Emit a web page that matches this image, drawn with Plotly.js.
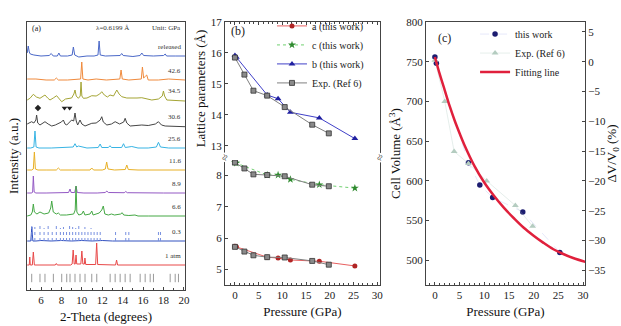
<!DOCTYPE html>
<html><head><meta charset="utf-8">
<script src="https://cdn.plot.ly/plotly-3.0.1.min.js"></script>
<style>body{margin:0;padding:0;background:#fff;} #chart{width:621px;height:326px;}</style>
</head><body><div id="chart"></div>
<script>
// ---------------- Panel (a): XRD patterns ----------------
const xrdLabels  = ["released","42.6","34.5","30.6","25.6","11.6","8.9","6.6","0.3","1 atm"];
const xrdOffsets = [234,210,190,164,142,120,97,74,49,25];

const thReleased = [4.65,4.75,4.85,4.95,5.3,6.0,6.8,7.0,7.2,7.6,7.75,7.9,8.6,9.05,9.17,9.3,9.7,10.5,11.2,11.58,11.69,11.8,12.3,13.0,13.75,13.9,14.05,15.0,15.7,15.87,16.05,17.0,18.0,18.16,18.3,19.2,20.1];
const inReleased = [3,10,4,2,1,0,0.5,2.5,0,0,3,0,0,1,9,1,-1,0,0,1,15,1,0,0,0.5,2.5,0.5,-0.5,0.5,3,0.5,0,0.5,2,0,0,0];

const th426 = [4.65,5.5,6.5,7.3,7.5,7.7,8.6,9.4,9.88,9.99,10.1,10.6,11.4,12.4,13.3,13.72,13.84,13.96,14.6,15.4,15.82,15.93,16.05,16.25,16.35,16.5,17.5,18.5,20.1];
const in426 = [1,1,0,0,2,0,0,1,1,18,1,0,1,0,1,1,10,1,0,1,1,13,2,4,5,0,0,1,0];

const th345 = [4.65,4.92,5.25,5.55,5.9,6.15,6.39,6.65,6.88,7.2,7.53,7.8,8.03,8.4,8.68,9.0,9.22,9.33,9.45,9.66,9.84,9.92,10.0,10.15,10.5,10.97,11.4,11.75,11.95,12.2,12.5,12.76,13.1,13.42,13.65,13.91,14.4,14.89,15.4,15.87,16.4,16.85,17.5,17.88,17.99,18.1,18.32,19.2,20.1];
const in345 = [0,1.7,5.7,3,1.7,3,5,2,0,2,4.3,1,-1.7,1,1.7,2,6,10,4,1.7,4,18,4,1.7,2,4.3,4,6,8.3,5,3,5,4,10,6,3.3,2,1.7,2,2.3,1,0,1,4,9,4,0,-0.5,-1];

const th306 = [4.65,5.08,5.3,5.5,5.57,5.68,5.9,6.39,6.7,7.05,7.4,7.7,8.0,8.19,8.35,8.52,8.8,9.0,9.2,9.33,9.45,9.59,9.82,10.0,10.31,10.6,10.97,11.4,11.8,11.95,12.1,12.45,12.9,13.26,13.7,14.1,14.24,14.4,14.73,15.3,15.87,16.5,17.2,17.5,17.8,18.16,19,20.1];
const in306 = [2,4.3,3,6,11,3,1,4.3,2,0,1,2.7,4,6,2,1,4,6,5,13,5,1,6,2,0,1,2.7,3,6,9.3,4,1,2,4.3,2,4,7.7,3,0,0.5,1,0.5,2,4.3,1,0,0,-0.7];

const th256 = [4.65,5.0,5.3,5.41,5.52,5.8,7.0,8.5,9.15,9.33,9.5,9.66,10.5,11.6,11.79,11.95,12.6,12.76,12.9,13.9,14.08,14.25,14.89,15.5,16.5,17.3,17.5,17.7,18.5,20.1];
const in256 = [0,0,1,17,1,0,0,0.5,1,4.3,1,2,0,0.5,4,0.5,0.5,2.3,0.5,0.5,4.3,0.5,1.5,0,0,1,5.7,1,0,0];

const th116 = [4.65,5.1,5.25,5.35,5.45,5.7,6.5,7.5,7.7,7.9,9.0,10.8,10.97,11.15,12.0,12.3,12.43,12.56,13.2,14.25,14.4,14.55,15.5,17,18.5,20.1];
const in116 = [0,0,1,18,1,0,0,0,2,0,0,0,2,0,0,1,8,1,0,0.5,5,0.5,0,0,0.5,0];

const th89 = [4.65,5.1,5.18,5.25,5.33,5.5,6.5,7.5,8.7,8.84,8.95,9.3,9.43,9.55,10.2,11.5,12.3,12.44,12.6,14.15,14.3,14.45,16,18,20.1];
const in89 = [0,0,1,17,1,0,0,0,0.5,4,0.5,0.5,6.7,0.5,0,0,0.5,2,0.5,0.3,1.5,0.3,0,0,0];

const th66 = [4.65,5.0,5.15,5.25,5.35,5.6,5.9,6.3,6.75,6.95,7.05,7.2,7.5,7.7,7.9,8.5,9.2,9.35,9.43,9.51,9.7,10.0,10.15,10.3,10.8,10.97,11.1,11.7,11.95,12.1,12.25,12.6,12.9,13.2,13.8,13.95,14.1,14.6,15.2,15.5,16.5,17.5,20.1];
const in66 = [0,1,4,12,4,2,4,2,3,8,15,4,2,3,1,1,2,6,30,4,1,2,5,1,2,5,1,3,6,10,2,1,2,1,2,3.3,1,0.5,1,0,0,0,0];

const th03 = [4.65,5.0,5.1,5.2,5.5,6.0,7.0,8.0,9.0,10.0,11.0,12.0,13.0,14.0,15.0,16.0,17.0,18.0,19.0,20.1];
const in03 = [0,0,14,0,0,0.5,0,0.5,0,0.5,0,0.5,0,0,0,0,0,0,0,0];
const mark03Theta = [5.1,5.4,5.9,6.3,6.7,7.1,7.5,7.9,8.2,8.5,8.8,9.1,9.4,9.7,10.0,10.3,10.6,10.9,11.2,11.5,11.8,13.3,14.3,14.6,17.5,17.7];
const mark03H     = [16,14,15,13,16,12,15,13,14,12,15,14,13,15,12,14,11,13,12,11,10,9,12,10,11,10];

const thAtm = [4.65,4.85,4.9,4.95,5.15,5.25,5.35,6.0,7.4,7.5,7.6,8.9,9.05,9.15,9.25,9.35,9.43,9.5,9.9,10.0,10.1,10.25,10.3,10.38,11.35,11.45,11.55,13.3,13.4,13.5,15,17,20.1];
const inAtm = [0,0,8,0,0,13,0,0,0,1.5,0,0,1,15,1,1,10,1,1,14,1,1,7,0.5,0.5,22,0.5,0,5,0,0,0,0];

const braggTheta = [5.09,5.90,6.39,7.21,8.03,8.52,8.84,9.33,9.82,10.31,10.97,11.46,12.77,13.26,13.75,14.24,14.73,15.71,16.2,16.69,17.01,18.65,19.14,19.46];
const symbolTheta = [5.7,8.3,8.8];
const symbolKinds = ["diamond","triangle-down","triangle-down"];

// ---------------- Panel (b): lattice parameters ----------------
const pTw  = [0,0.3,6.8,9.1,11.7,17.8,25.3];
const aTw  = [5.74,5.72,5.39,5.36,5.30,5.26,5.11];
const cTw  = [8.42,8.40,8.02,8.02,7.88,7.71,7.60];
const bTw  = [15.92,15.86,14.64,14.52,14.08,13.90,13.23];
const pExp = [0,2.0,3.9,6.8,10.5,16.3,19.8];
const aExp = [5.72,5.57,5.45,5.39,5.38,5.27,5.15];
const cExp = [8.42,8.23,8.04,8.02,7.98,7.71,7.66];
const bExp = [15.85,15.30,14.78,14.62,14.25,13.68,13.40];

// ---------------- Panel (c): cell volume ----------------
const vTw  = [756,748,623,595,579,561,510];
const vExp = [752,700,637,622,600,569,543];
const pFit = [0,1,2,3,4,5,6,8,10,12,14,16,18,20,22,24,26,28,30.5];
const vFit = [756,734,714,694,676,660,645,619,598,581,566,553,541,531,522,514,508,503,498];
const V0 = 750;

const xrdColors = ["#4a68c8","#f08a3c","#a5a535","#454545","#38b4e4","#e8b025","#9358c4","#45a845","#3352c0","#e84848"];
const xrdSeries = [[thReleased,inReleased],[th426,in426],[th345,in345],[th306,in306],[th256,in256],[th116,in116],[th89,in89],[th66,in66],[th03,in03],[thAtm,inAtm]];

const traces = [];
xrdSeries.forEach((s,i)=>{
  traces.push({x:s[0], y:s[1].map(v=>v+xrdOffsets[i]), xaxis:'x', yaxis:'y', mode:'lines',
    line:{color:xrdColors[i], width:1}, showlegend:false, hoverinfo:'skip'});
});
(function(){
  const xs=[], ys=[]; const off = xrdOffsets[8];
  mark03Theta.forEach((t,k)=>{ xs.push(t,t,null); ys.push(off, off+mark03H[k], null); });
  traces.push({x:xs, y:ys, xaxis:'x', yaxis:'y', mode:'lines', line:{color:'#7890e0', width:1, dash:'dot'}, showlegend:false});
})();
traces.push({x:braggTheta, y:braggTheta.map(()=>12), xaxis:'x', yaxis:'y', mode:'markers',
  marker:{symbol:'line-ns-open', size:6, color:'#999', line:{color:'#999', width:1}}, showlegend:false});
traces.push({x:symbolTheta, y:symbolTheta.map(()=>xrdOffsets[3]+18), xaxis:'x', yaxis:'y', mode:'markers',
  marker:{symbol:symbolKinds, size:5, color:'#222'}, showlegend:false});

// panel b
const redL='#e86060', redM='#b02525', grnL='#70d070', grnM='#2f8a2f', bluL='#4040c8', bluM='#2020a0', gryL='#808080', gryM='#8a8a8a';
const expMk = {symbol:'square',size:5,color:gryM,line:{color:'#333',width:0.8}};
traces.push({name:'a (this work)', x:pTw, y:aTw, xaxis:'x2', yaxis:'y2', mode:'lines+markers',
  line:{color:redL,width:1}, marker:{symbol:'circle',size:5,color:redM}, legend:'legend', legendgroup:'a'});
traces.push({name:'c (this work)', x:pTw, y:cTw, xaxis:'x2', yaxis:'y2', mode:'lines+markers',
  line:{color:grnL,width:1,dash:'dot'}, marker:{symbol:'star',size:6,color:grnM}, legend:'legend', legendgroup:'c'});
traces.push({name:'b (this work)', x:pTw, y:bTw, xaxis:'x4', yaxis:'y3', mode:'lines+markers',
  line:{color:bluL,width:1}, marker:{symbol:'triangle-up',size:6,color:bluM}, legend:'legend', legendgroup:'b'});
traces.push({name:'Exp. (Ref 6)', x:pExp, y:bExp, xaxis:'x4', yaxis:'y3', mode:'lines+markers',
  line:{color:gryL,width:1}, marker:expMk, legend:'legend', legendgroup:'e'});
traces.push({name:'Exp. (Ref 6)', x:pExp, y:aExp, xaxis:'x2', yaxis:'y2', mode:'lines+markers', showlegend:false,
  line:{color:gryL,width:1}, marker:expMk, legendgroup:'e'});
traces.push({name:'Exp. (Ref 6)', x:pExp, y:cExp, xaxis:'x2', yaxis:'y2', mode:'lines+markers', showlegend:false,
  line:{color:gryL,width:1}, marker:expMk, legendgroup:'e'});

// panel c
traces.push({name:'this work', x:pTw, y:vTw, xaxis:'x3', yaxis:'y4', mode:'lines+markers',
  line:{color:'rgba(110,130,230,0.18)',width:1,dash:'dash'}, marker:{symbol:'circle',size:5.5,color:'#1c1c70'}, legend:'legend2'});
traces.push({name:'Exp. (Ref 6)', x:pExp, y:vExp, xaxis:'x3', yaxis:'y4', mode:'lines+markers',
  line:{color:'rgba(170,200,190,0.3)',width:1}, marker:{symbol:'triangle-up',size:6,color:'#b4ccc0'}, legend:'legend2'});
traces.push({name:'Fitting line', x:pFit, y:vFit, xaxis:'x3', yaxis:'y4', mode:'lines',
  line:{color:'#e0203c',width:2.5, shape:'spline'}, legend:'legend2'});
traces.push({x:[0], y:[0], xaxis:'x3', yaxis:'y5', mode:'markers', showlegend:false, marker:{opacity:0}});

const serif = 'Liberation Serif, Times New Roman, serif';
const tickF = {family:serif, size:11, color:'#222'};
const titleF = {family:serif, size:13, color:'#111'};
const axBase = {showline:true, linecolor:'#444', linewidth:1, ticks:'inside', ticklen:3, tickcolor:'#444',
  showgrid:false, zeroline:false, tickfont:tickF};
const minorX = {dtick:1, ticks:'inside', ticklen:2, tickcolor:'#444'};

const vRange = [469,800];
const layout = {
  width:621, height:326, margin:{l:0,r:0,t:0,b:0}, paper_bgcolor:'#fff', plot_bgcolor:'#fff',
  font:{family:serif},
  xaxis: Object.assign({}, axBase, {domain:[0.0435,0.2979], anchor:'y', range:[4.63,20.1], dtick:2, tick0:0,
     mirror:true, minor:minorX, title:{text:'2-Theta (degrees)', font:titleF, standoff:6}}),
  yaxis: Object.assign({}, axBase, {domain:[0.1104,0.9325], anchor:'x', range:[0,268], showticklabels:false, ticks:'',
     mirror:true, title:{text:'Intensity (a.u.)', font:titleF, standoff:4}}),
  xaxis2: Object.assign({}, axBase, {domain:[0.3623,0.6119], anchor:'y2', range:[-2.1,30.6], dtick:5, tick0:0,
     minor:minorX, title:{text:'Pressure (GPa)', font:titleF, standoff:6}}),
  xaxis4: Object.assign({}, axBase, {domain:[0.3623,0.6119], anchor:'y3', side:'top', range:[-2.1,30.6], dtick:5, tick0:0,
     showticklabels:false, minor:minorX}),
  yaxis2: Object.assign({}, axBase, {domain:[0.1258,0.5092], anchor:'x2', range:[4.5,8.5], dtick:1, tick0:0, mirror:true}),
  yaxis3: Object.assign({}, axBase, {domain:[0.5245,0.9325], anchor:'x4', range:[12.7,17], dtick:1, tick0:0, mirror:true,
     title:{text:'Lattice parameters (Å)', font:titleF, standoff:2}}),
  xaxis3: Object.assign({}, axBase, {domain:[0.686,0.942], anchor:'y4', range:[-1.8,30.4], dtick:5, tick0:0, mirror:true,
     minor:minorX, title:{text:'Pressure (GPa)', font:titleF, standoff:6}}),
  yaxis4: Object.assign({}, axBase, {domain:[0.1258,0.9325], anchor:'x3', range:vRange, dtick:50, tick0:0,
     title:{text:'Cell Volume (Å<sup>3</sup>)', font:titleF, standoff:2}}),
  yaxis5: Object.assign({}, axBase, {overlaying:'y4', side:'right', anchor:'x3',
     range:vRange.map(v=>(v/V0-1)*100), dtick:5, tick0:0,
     title:{text:'ΔV/V<sub>0</sub> (%)', font:titleF, standoff:2}}),
  legend:{x:0.438, y:0.965, xanchor:'left', yanchor:'top', bgcolor:'rgba(0,0,0,0)', font:{family:serif,size:10,color:'#222'},
     itemwidth:30, tracegroupgap:0, traceorder:'normal'},
  legend2:{x:0.765, y:0.94, xanchor:'left', yanchor:'top', bgcolor:'rgba(0,0,0,0)', font:{family:serif,size:10,color:'#222'},
     itemwidth:30, tracegroupgap:0, traceorder:'normal'},
  annotations:[]
};
const ann = layout.annotations;
const small = {family:serif, size:7, color:'#333'};
xrdLabels.forEach((t,i)=>ann.push({text:t, x:19.9, y:xrdOffsets[i]+9, xref:'x', yref:'y', xanchor:'right', yanchor:'middle', showarrow:false, font:small}));
ann.push({text:'(a)', x:4.9, y:262, xref:'x', yref:'y', xanchor:'left', showarrow:false, font:{family:serif,size:8,color:'#222'}});
ann.push({text:'λ=0.6199 Å', x:13.0, y:262, xref:'x', yref:'y', xanchor:'center', showarrow:false, font:small});
ann.push({text:'Unit: GPa', x:19.95, y:262, xref:'x', yref:'y', xanchor:'right', showarrow:false, font:small});
ann.push({text:'(b)', x:-1.2, y:16.7, xref:'x4', yref:'y3', xanchor:'left', showarrow:false, font:{family:serif,size:12,color:'#222'}});
ann.push({text:'(c)', x:0.3, y:780, xref:'x3', yref:'y4', xanchor:'left', showarrow:false, font:{family:serif,size:12,color:'#222'}});
[0.3623,0.6119].forEach(xp=>ann.push({text:'≈', x:xp, y:0.517, xref:'paper', yref:'paper', showarrow:false, textangle:-70,
   font:{family:serif,size:11,color:'#333'}, bgcolor:'#fff'}));

Plotly.newPlot('chart', traces, layout, {staticPlot:true, displayModeBar:false});
</script></body></html>
